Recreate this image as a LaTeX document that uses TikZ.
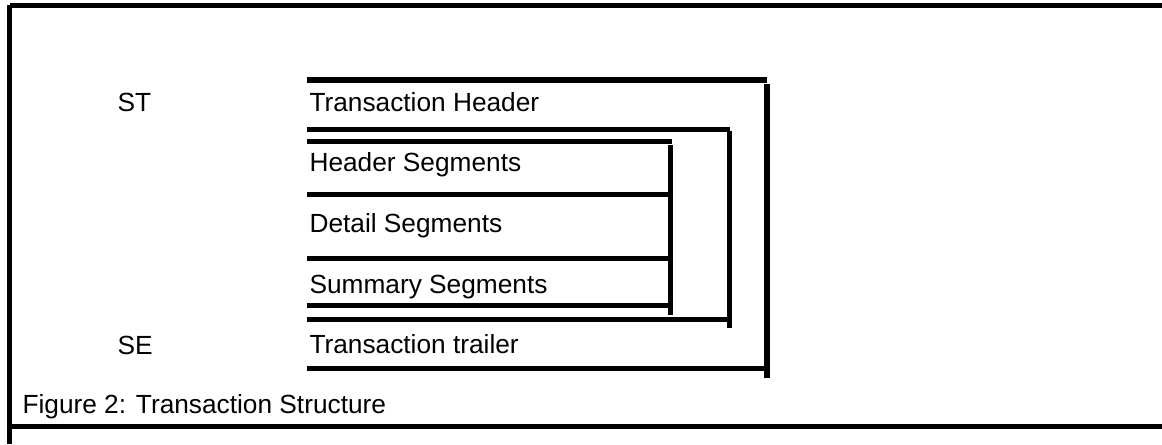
\documentclass[tikz,border=0pt]{standalone}
\usepackage{fontspec}
\setmainfont{Liberation Sans}

\tikzset{
    lbl/.style={anchor=base west,inner sep=0pt,font=\fontsize{19.7}{23}\selectfont},
}

\begin{document}
\begin{tikzpicture}[x=0.75pt,y=-0.75pt,line width=3.8pt]
            \useasboundingbox (0,0) rectangle (1162,444);
            \newcommand\xstart{307}
            % frame
            \draw (9.5,5) -- (9.5,444);
            \draw (9.5,5.5) -- (1162,5.5);
            \draw (9.5,426.5) -- (1162,426.5);
            % segment ids and names
            \node[lbl] (st) at (115,111) {ST};
            \node[lbl] (se) at (115,354) {SE};
            \node[lbl] (thead) at (\xstart,111) {Transaction Header};
            \node[lbl] (hseg) at (\xstart,171) {Header Segments};
            \node[lbl] (dseg) at (\xstart,232) {Detail Segments};
            \node[lbl] (sseg) at (\xstart,293) {Summary Segments};
            \node[lbl] (ttrail) at (\xstart,353) {Transaction trailer};
            \node[lbl] (caption) at (20,413) {Figure 2: Transaction Structure};
            % brackets
            \foreach \y/\xe in {80/767,129.5/730,141.5/672,194.5/670,258.5/670,305.5/670,319.5/729,368.5/767}{
                \draw (\xstart,\y) -- (\xe,\y);
            }
            \foreach \x/\ya/\yb in {767/84/378,729.5/131/328,670.5/145/315}{
                \draw (\x,\ya) -- (\x,\yb);
            }
        \end{tikzpicture}
\end{document}
